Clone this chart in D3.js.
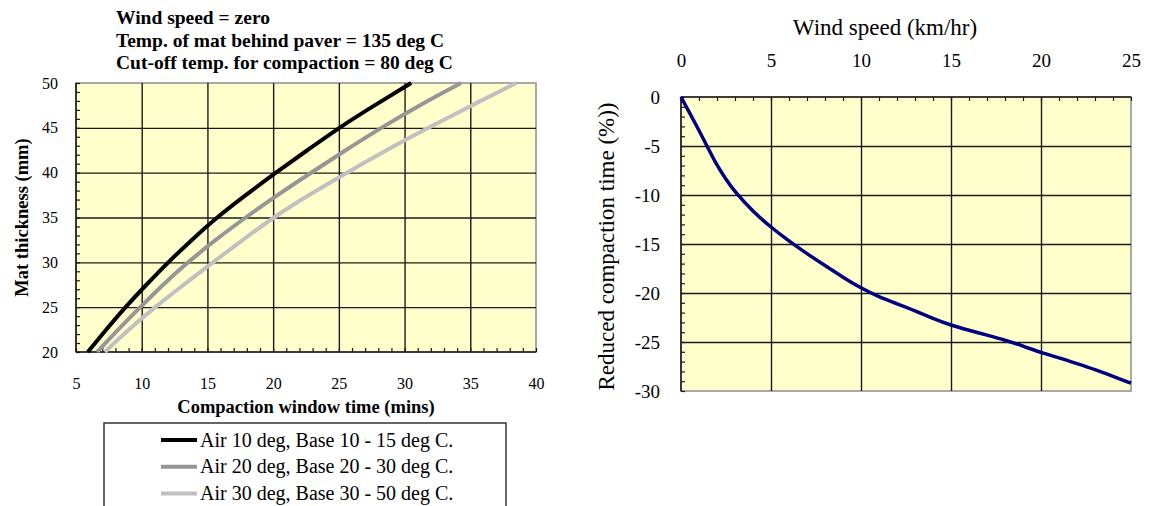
<!DOCTYPE html>
<html>
<head>
<meta charset="utf-8">
<script src="https://cdn.jsdelivr.net/npm/d3@7"></script>
<style>
  html, body { margin: 0; padding: 0; background: #fff; }
  svg { display: block; font-family: "Liberation Serif", "Times New Roman", serif; }
</style>
</head>
<body>
<svg id="chart" width="1152" height="506"></svg>
<script>
// ---- Compaction window time vs mat thickness ----
const thickness = [20, 22.5, 25, 27.5, 30, 32.5, 35, 37.5, 40, 42.5, 45, 47.5, 50];
const timeAir10 = [5.9, 7.3, 8.75, 10.35, 12.0, 13.8, 15.7, 17.9, 20.2, 22.6, 25.0, 27.7, 30.5];
const timeAir20 = [6.6, 8.2, 9.9, 11.6, 13.5, 15.6, 17.9, 20.3, 22.9, 25.5, 28.2, 31.1, 34.3];
const timeAir30 = [7.2, 9.0, 11.0, 13.2, 15.4, 17.7, 20.0, 22.7, 25.6, 28.6, 31.8, 35.1, 38.5];
const seriesNames = [
  "Air 10 deg, Base 10 - 15 deg C.",
  "Air 20 deg, Base 20 - 30 deg C.",
  "Air 30 deg, Base 30 - 50 deg C."
];
const seriesColors = ["#000000", "#969696", "#c0c0c0"];
const timeTicks = [5, 10, 15, 20, 25, 30, 35, 40];
const thicknessTicks = [20, 25, 30, 35, 40, 45, 50];
const conditionNotes = [
  "Wind speed = zero",
  "Temp. of mat behind paver = 135 deg C",
  "Cut-off temp. for compaction = 80 deg C"
];

// ---- Effect of wind on compaction time ----
const windSpeed = [0, 0.5, 1, 1.5, 2, 2.5, 3, 4, 5, 6, 7, 8, 9, 10, 11, 12, 13, 14, 15, 16, 17, 18, 19, 20, 21, 22, 23, 24, 25];
const reducedTime = [0, -1.7, -3.4, -5.2, -7.0, -8.4, -9.7, -11.7, -13.3, -14.7, -16.0, -17.2, -18.4, -19.5, -20.4, -21.1, -21.8, -22.6, -23.3, -23.8, -24.3, -24.8, -25.4, -26.1, -26.6, -27.2, -27.8, -28.5, -29.2];
const windTicks = [0, 5, 10, 15, 20, 25];
const reducedTicks = [0, -5, -10, -15, -20, -25, -30];

const SERIF = '"Liberation Serif", "Times New Roman", serif';
const svg = d3.select("#chart");
svg.append("rect").attr("width", 1152).attr("height", 506).attr("fill", "#fff");

function styleAxis(g, size, weight) {
  g.attr("font-family", SERIF).attr("font-size", size).attr("font-weight", weight || "normal");
  g.select(".domain").remove();
  g.selectAll("text").attr("fill", "#000");
}
function styleLines(g, color, width) {
  g.select(".domain").remove();
  g.selectAll("line").attr("stroke", color).attr("stroke-width", width);
}

// =================== left panel ===================
const L = { x0: 76, x1: 536, y0: 83, y1: 352 };
const xL = d3.scaleLinear().domain([5, 40]).range([L.x0, L.x1]);
const yL = d3.scaleLinear().domain([20, 50]).range([L.y1, L.y0]);
const gL = svg.append("g");

gL.append("rect")
  .attr("x", L.x0).attr("y", L.y0)
  .attr("width", L.x1 - L.x0).attr("height", L.y1 - L.y0)
  .attr("fill", "#ffffcc").attr("stroke", "#a8a8a8").attr("stroke-width", 2);

// grid
gL.append("g").attr("transform", `translate(0,${L.y1})`)
  .call(d3.axisBottom(xL).tickValues(timeTicks.slice(1, -1)).tickSize(-(L.y1 - L.y0)).tickFormat(""))
  .call(g => styleLines(g, "#1a1a1a", 1.4));
gL.append("g").attr("transform", `translate(${L.x0},0)`)
  .call(d3.axisLeft(yL).tickValues(thicknessTicks.slice(1, -1)).tickSize(-(L.x1 - L.x0)).tickFormat(""))
  .call(g => styleLines(g, "#1a1a1a", 1.4));

// minor ticks pointing into the plot
gL.append("g").attr("transform", `translate(0,${L.y1})`)
  .call(d3.axisBottom(xL).tickValues(d3.range(5, 41, 1)).tickSize(-4).tickFormat(""))
  .call(g => styleLines(g, "#1a1a1a", 1.2));
gL.append("g").attr("transform", `translate(${L.x0},0)`)
  .call(d3.axisLeft(yL).tickValues(d3.range(20, 51, 1)).tickSize(-4).tickFormat(""))
  .call(g => styleLines(g, "#1a1a1a", 1.2));

// axis lines
gL.append("line").attr("x1", L.x0).attr("x2", L.x1).attr("y1", L.y1).attr("y2", L.y1)
  .attr("stroke", "#1a1a1a").attr("stroke-width", 1.6);
gL.append("line").attr("x1", L.x0).attr("x2", L.x0).attr("y1", L.y0).attr("y2", L.y1)
  .attr("stroke", "#1a1a1a").attr("stroke-width", 1.6);

// tick labels
gL.append("g").attr("transform", `translate(0,${L.y1})`)
  .call(d3.axisBottom(xL).tickValues(timeTicks).tickSize(0).tickFormat(d3.format("d")))
  .call(g => styleAxis(g, 16))
  .selectAll("text").attr("y", 37).attr("dy", null);
gL.append("g").attr("transform", `translate(${L.x0},0)`)
  .call(d3.axisLeft(yL).tickValues(thicknessTicks).tickSize(0).tickPadding(18).tickFormat(d3.format("d")))
  .call(g => styleAxis(g, 16));

// curves
const seriesTimes = [timeAir10, timeAir20, timeAir30];
const thickLine = d3.line()
  .x(d => xL(d[0])).y(d => yL(d[1]))
  .curve(d3.curveBasis);
seriesTimes.forEach((times, i) => {
  gL.append("path")
    .datum(times.map((t, k) => [t, thickness[k]]))
    .attr("d", thickLine)
    .attr("fill", "none")
    .attr("stroke", seriesColors[i])
    .attr("stroke-width", 4);
});

// condition notes
gL.append("g").selectAll("text").data(conditionNotes).join("text")
  .attr("x", 116).attr("y", (d, i) => 24 + i * 22.7)
  .attr("font-size", 19.5).attr("font-weight", "bold").attr("fill", "#000")
  .text(d => d);

// axis titles
gL.append("text")
  .attr("x", (L.x0 + L.x1) / 2).attr("y", 413)
  .attr("text-anchor", "middle").attr("font-size", 18.5).attr("font-weight", "bold")
  .text("Compaction window time (mins)");
gL.append("text")
  .attr("transform", `translate(28,${(L.y0 + L.y1) / 2}) rotate(-90)`)
  .attr("text-anchor", "middle").attr("font-size", 18.5).attr("font-weight", "bold")
  .text("Mat thickness (mm)");

// legend
const leg = gL.append("g");
leg.append("rect").attr("x", 104).attr("y", 423).attr("width", 402).attr("height", 120)
  .attr("fill", "#fff").attr("stroke", "#333").attr("stroke-width", 1.5);
seriesNames.forEach((name, i) => {
  const cy = 440 + i * 26.8;
  leg.append("line").attr("x1", 161).attr("x2", 197).attr("y1", cy).attr("y2", cy)
    .attr("stroke", seriesColors[i]).attr("stroke-width", 4);
  leg.append("text").attr("x", 200).attr("y", cy + 6.5)
    .attr("font-size", 20).attr("fill", "#000").text(name);
});

// =================== right panel ===================
const R = { x0: 681, x1: 1131, y0: 97, y1: 391 };
const xR = d3.scaleLinear().domain([0, 25]).range([R.x0, R.x1]);
const yR = d3.scaleLinear().domain([-30, 0]).range([R.y1, R.y0]);
const gR = svg.append("g");

gR.append("rect")
  .attr("x", R.x0).attr("y", R.y0)
  .attr("width", R.x1 - R.x0).attr("height", R.y1 - R.y0)
  .attr("fill", "#ffffcc").attr("stroke", "#a8a8a8").attr("stroke-width", 2);

gR.append("g").attr("transform", `translate(0,${R.y0})`)
  .call(d3.axisTop(xR).tickValues(windTicks.slice(1, -1)).tickSize(-(R.y1 - R.y0)).tickFormat(""))
  .call(g => styleLines(g, "#1a1a1a", 1.4));
gR.append("g").attr("transform", `translate(${R.x0},0)`)
  .call(d3.axisLeft(yR).tickValues(reducedTicks.slice(1, -1)).tickSize(-(R.x1 - R.x0)).tickFormat(""))
  .call(g => styleLines(g, "#1a1a1a", 1.4));

gR.append("g").attr("transform", `translate(0,${R.y0})`)
  .call(d3.axisTop(xR).tickValues(d3.range(0, 26, 1)).tickSize(-4).tickFormat(""))
  .call(g => styleLines(g, "#1a1a1a", 1.2));
gR.append("g").attr("transform", `translate(${R.x0},0)`)
  .call(d3.axisLeft(yR).tickValues(d3.range(-30, 1, 1)).tickSize(-4).tickFormat(""))
  .call(g => styleLines(g, "#1a1a1a", 1.2));

gR.append("line").attr("x1", R.x0).attr("x2", R.x1).attr("y1", R.y0).attr("y2", R.y0)
  .attr("stroke", "#1a1a1a").attr("stroke-width", 1.6);
gR.append("line").attr("x1", R.x0).attr("x2", R.x0).attr("y1", R.y0).attr("y2", R.y1)
  .attr("stroke", "#1a1a1a").attr("stroke-width", 1.6);

gR.append("g").attr("transform", `translate(0,${R.y0})`)
  .call(d3.axisTop(xR).tickValues(windTicks).tickSize(0).tickPadding(30).tickFormat(d3.format("d")))
  .call(g => styleAxis(g, 19));
gR.append("g").attr("transform", `translate(${R.x0},0)`)
  .call(d3.axisLeft(yR).tickValues(reducedTicks).tickSize(0).tickPadding(21).tickFormat(d => String(d)))
  .call(g => styleAxis(g, 19));

gR.append("path")
  .datum(windSpeed.map((w, k) => [w, reducedTime[k]]))
  .attr("d", d3.line().x(d => xR(d[0])).y(d => yR(d[1])).curve(d3.curveBasis))
  .attr("fill", "none").attr("stroke", "#000080").attr("stroke-width", 3.5);

gR.append("text")
  .attr("x", 885).attr("y", 35)
  .attr("text-anchor", "middle").attr("font-size", 23).attr("fill", "#000")
  .text("Wind speed (km/hr)");
gR.append("text")
  .attr("transform", `translate(614,246.5) rotate(-90)`)
  .attr("text-anchor", "middle").attr("font-size", 23).attr("fill", "#000")
  .text("Reduced compaction time (%))");
</script>
</body>
</html>
